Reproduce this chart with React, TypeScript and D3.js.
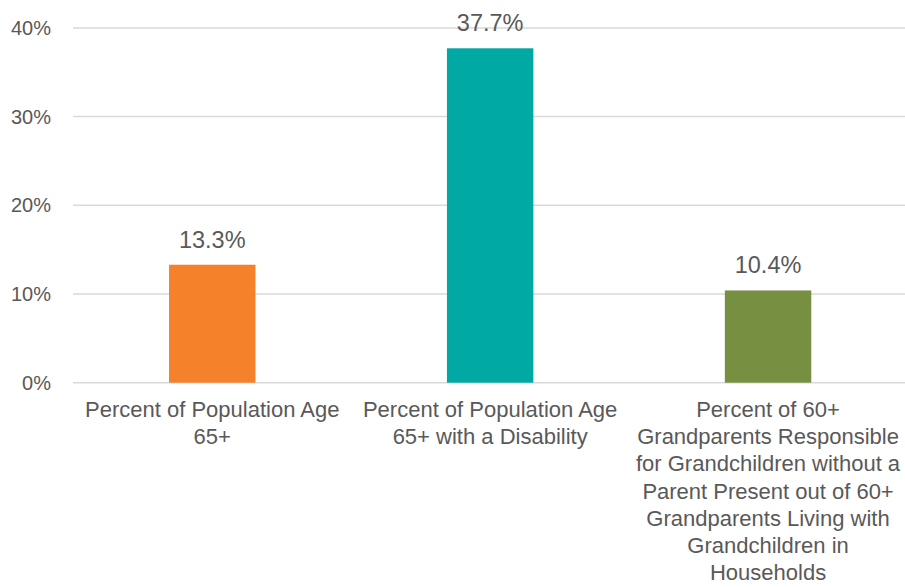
import React from "react";
import * as d3 from "d3";

const categories: string[][] = [
  ["Percent of Population Age", "65+"],
  ["Percent of Population Age", "65+ with a Disability"],
  [
    "Percent of 60+",
    "Grandparents Responsible",
    "for Grandchildren without a",
    "Parent Present out of 60+",
    "Grandparents Living with",
    "Grandchildren in",
    "Households",
  ],
];
const values: number[] = [13.3, 37.7, 10.4];
const colors: string[] = ["#F5822A", "#00A9A4", "#778F41"];
const yTicks: number[] = [0, 10, 20, 30, 40];

const W = 905;
const H = 587;
const FONT = "'Liberation Sans', Arial, sans-serif";
const TEXT = "#595959";

export default function App() {
  const x = d3
    .scaleBand<number>()
    .domain(values.map((_, i) => i))
    .range([73.3, 907])
    .padding(0);
  const y = d3.scaleLinear().domain([0, 40]).range([382.7, 27.9]);
  const barW = x.bandwidth() * 0.311;

  return (
    <div style={{ position: "absolute", left: 0, top: 0 }}>
      <svg width={W} height={H} style={{ display: "block", background: "#fff" }}>
        <rect width={W} height={H} fill="#fff" />
        {yTicks.map((t) => (
          <g key={t}>
            <line
              x1={73}
              x2={905}
              y1={y(t)}
              y2={y(t)}
              stroke="#D9D9D9"
              strokeWidth={1.5}
            />
            <text
              x={51}
              y={y(t)}
              dy="0.35em"
              textAnchor="end"
              fontFamily={FONT}
              fontSize={20}
              fill={TEXT}
            >
              {t}%
            </text>
          </g>
        ))}
        {values.map((v, i) => {
          const cx = (x(i) as number) + x.bandwidth() / 2;
          return (
            <g key={i}>
              <rect
                x={cx - barW / 2}
                y={y(v)}
                width={barW}
                height={y(0) - y(v)}
                fill={colors[i]}
              />
              <text
                x={cx}
                y={y(v) - 17}
                textAnchor="middle"
                fontFamily={FONT}
                fontSize={23.5}
                fill={TEXT}
              >
                {v.toFixed(1)}%
              </text>
              {categories[i].map((line, j) => (
                <text
                  key={j}
                  x={cx}
                  y={417 + j * 27.2}
                  textAnchor="middle"
                  fontFamily={FONT}
                  fontSize={22}
                  fill={TEXT}
                >
                  {line}
                </text>
              ))}
            </g>
          );
        })}
      </svg>
    </div>
  );
}
